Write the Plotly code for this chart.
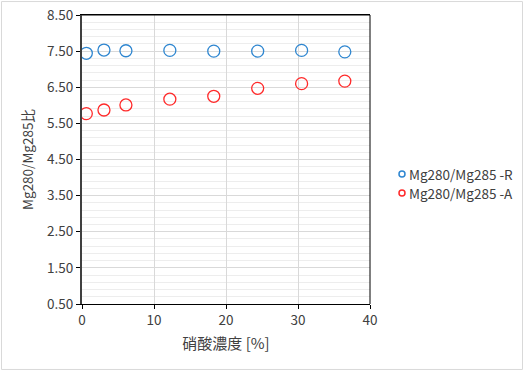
import plotly.graph_objects as go

conc = [0.6, 3.05, 6.1, 12.2, 18.3, 24.4, 30.5, 36.5]
ratio_R = [7.44, 7.53, 7.51, 7.52, 7.50, 7.50, 7.52, 7.48]
ratio_A = [5.77, 5.87, 6.01, 6.17, 6.25, 6.47, 6.60, 6.67]
name_R = "Mg280/Mg285 -R"
name_A = "Mg280/Mg285 -A"
x_title = "硝酸濃度 [%]"
y_title = "Mg280/Mg285比"

font = "Noto Sans CJK JP"
blue = "#2e86d0"
red = "#ff2a2a"
txt = "#404040"

fig = go.Figure()
fig.add_trace(go.Scatter(x=conc, y=ratio_R, mode="markers", name=name_R, showlegend=False,
                         marker=dict(symbol="circle-open", size=12, color=blue, line=dict(width=1.3))))
fig.add_trace(go.Scatter(x=conc, y=ratio_A, mode="markers", name=name_A, showlegend=False,
                         marker=dict(symbol="circle-open", size=12, color=red, line=dict(width=1.3))))

fig.update_xaxes(range=[0, 40], dtick=10, tick0=0, showgrid=True, gridcolor="#d9d9d9", gridwidth=1,
                 showline=True, linecolor="black", linewidth=1, mirror=True, automargin=False,
                 ticks="outside", ticklen=4, tickcolor="black", zeroline=False,
                 title=dict(text=x_title, font=dict(family=font, size=15, color=txt), standoff=10),
                 tickfont=dict(family=font, size=13.5, color=txt))
fig.update_yaxes(range=[0.5, 8.5], dtick=1, tick0=0.5, tickformat=".2f", showgrid=True, gridcolor="#d9d9d9", gridwidth=1,
                 minor=dict(tick0=0.5, dtick=0.2, showgrid=True, gridcolor="#ededed", gridwidth=1),
                 showline=True, linecolor="#404040", linewidth=2, mirror=False, automargin=False,
                 ticks="outside", ticklen=4, tickcolor="black", zeroline=False,
                 title=dict(text=y_title, font=dict(family=font, size=13.5, color=txt), standoff=10),
                 tickfont=dict(family=font, size=13.5, color=txt))

# right and top frame lines
fig.add_shape(type="line", xref="paper", yref="paper", x0=0, x1=1, y0=1, y1=1, line=dict(color="black", width=1))
fig.add_shape(type="line", xref="paper", yref="paper", x0=1, x1=1, y0=0, y1=1, line=dict(color="black", width=1))
# outer chart border
fig.add_shape(type="rect", xref="paper", yref="paper", x0=-0.2795, x1=1.5295, y0=-0.2265, y1=1.0465,
              line=dict(color="#d9d9d9", width=1))

# legend drawn as symbol + text (compact, as in the reference)
leg_items = [(name_R, blue, 0.4498), (name_A, red, 0.3841)]
rx, ry = 0.0104, 0.0104
for name, col, yy in leg_items:
    fig.add_shape(type="circle", xref="paper", yref="paper",
                  x0=1.1111 - rx, x1=1.1111 + rx, y0=yy - ry, y1=yy + ry,
                  line=dict(color=col, width=1.5))
    fig.add_annotation(xref="paper", yref="paper", x=1.1285, y=yy, xanchor="left", yanchor="middle",
                       text=name, showarrow=False, font=dict(family=font, size=13.5, color=txt))

fig.update_layout(
    width=524, height=371,
    margin=dict(l=82, r=154, t=15, b=67, autoexpand=False),
    paper_bgcolor="white", plot_bgcolor="white",
    font=dict(family=font, size=13.5, color=txt),
    showlegend=False,
)
fig.write_html("out.html", config={"displayModeBar": False},
               post_script="document.body.style.margin='0';document.body.style.padding='0';")
